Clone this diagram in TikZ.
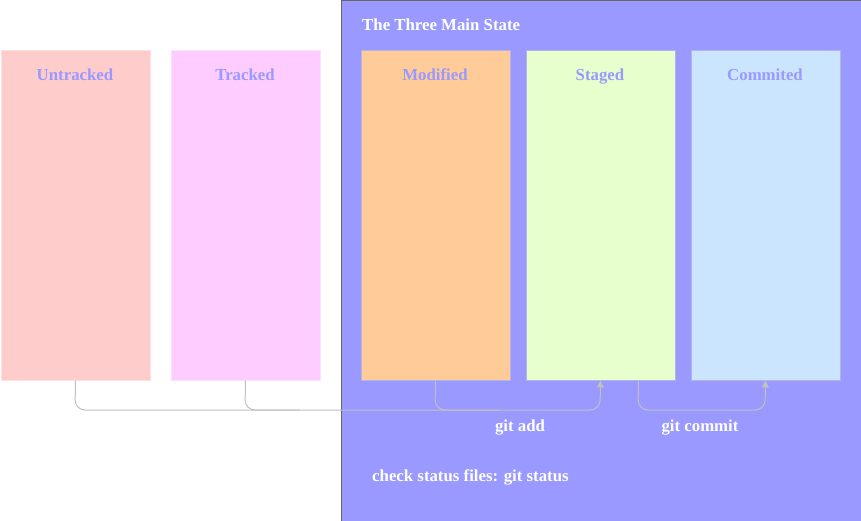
\documentclass[tikz,border=0pt]{standalone}
\usepackage{fontspec}
\setmainfont{Liberation Serif}
\usetikzlibrary{arrows.meta}
\definecolor{mainfill}{HTML}{9999FF}
\definecolor{mainedge}{HTML}{666666}
\definecolor{untrk}{HTML}{FFCCCC}
\definecolor{untrkedge}{HTML}{FFE0E0}
\definecolor{trk}{HTML}{FFCCFF}
\definecolor{trkedge}{HTML}{FFE0FF}
\definecolor{modf}{HTML}{FFCC99}
\definecolor{stg}{HTML}{E6FFCC}
\definecolor{cmt}{HTML}{CCE5FF}
\definecolor{inedge}{HTML}{B3B3E6}
\definecolor{conn}{HTML}{C0C0C0}
\begin{document}
\begin{tikzpicture}[x=1pt,y=-1pt,
  statebox/.style={draw=#1, line width=1pt, minimum width=149pt, minimum height=329pt, anchor=north west, inner sep=0pt},
  boxlabel/.style={text=mainfill, font=\fontsize{16.8}{20}\selectfont\bfseries, anchor=base, inner sep=0pt},
  whitetext/.style={text=white, font=\fontsize{16.8}{20}\selectfont\bfseries, inner sep=0pt},
  connector/.style={draw=conn, line width=1pt, rounded corners=10pt},
  arrowconn/.style={connector, -{Triangle[length=7pt,width=7pt]}}]
\useasboundingbox (0,0) rectangle (861,521);
\node[draw=mainedge, fill=mainfill, line width=1pt, minimum width=520pt, minimum height=520pt, anchor=north west, inner sep=0pt] (main) at (340.5,0.5) {};
\node[whitetext, anchor=base west] (title) at (362,31) {The Three Main State};
\node[statebox=untrkedge, fill=untrk] (untracked) at (0.5,50.5) {};
\node[statebox=trkedge, fill=trk] (tracked) at (170.5,50.5) {};
\node[statebox=inedge, fill=modf] (modified) at (360.5,50.5) {};
\node[statebox=inedge, fill=stg] (staged) at (525.5,50.5) {};
\node[statebox=inedge, fill=cmt] (commited) at (690.5,50.5) {};
\node[boxlabel] (l1) at (75,81) {Untracked};
\node[boxlabel] (l2) at (245,81) {Tracked};
\node[boxlabel] (l3) at (435,81) {Modified};
\node[boxlabel] (l4) at (600,81) {Staged};
\node[boxlabel] (l5) at (765,81) {Commited};
\coordinate (j1) at (600,410);
\coordinate (j2) at (765,410);
\draw[arrowconn] (untracked.south) -- (75,410) -- (j1) -- (staged.south);
\draw[connector] (tracked.south) -- (245,410) -- (300,410);
\draw[connector] (modified.south) -- (435,410) -- (500,410);
\draw[arrowconn] ([xshift=38pt]staged.south) -- (638,410) -- (j2) -- (commited.south);
\node[whitetext, anchor=base] (gitadd) at (520,431) {git add};
\node[whitetext, anchor=base] (gitcommit) at (700,431) {git commit};
\node[whitetext, anchor=base west] (status) at (372,481) {check status files: git status};
\end{tikzpicture}
\end{document}
